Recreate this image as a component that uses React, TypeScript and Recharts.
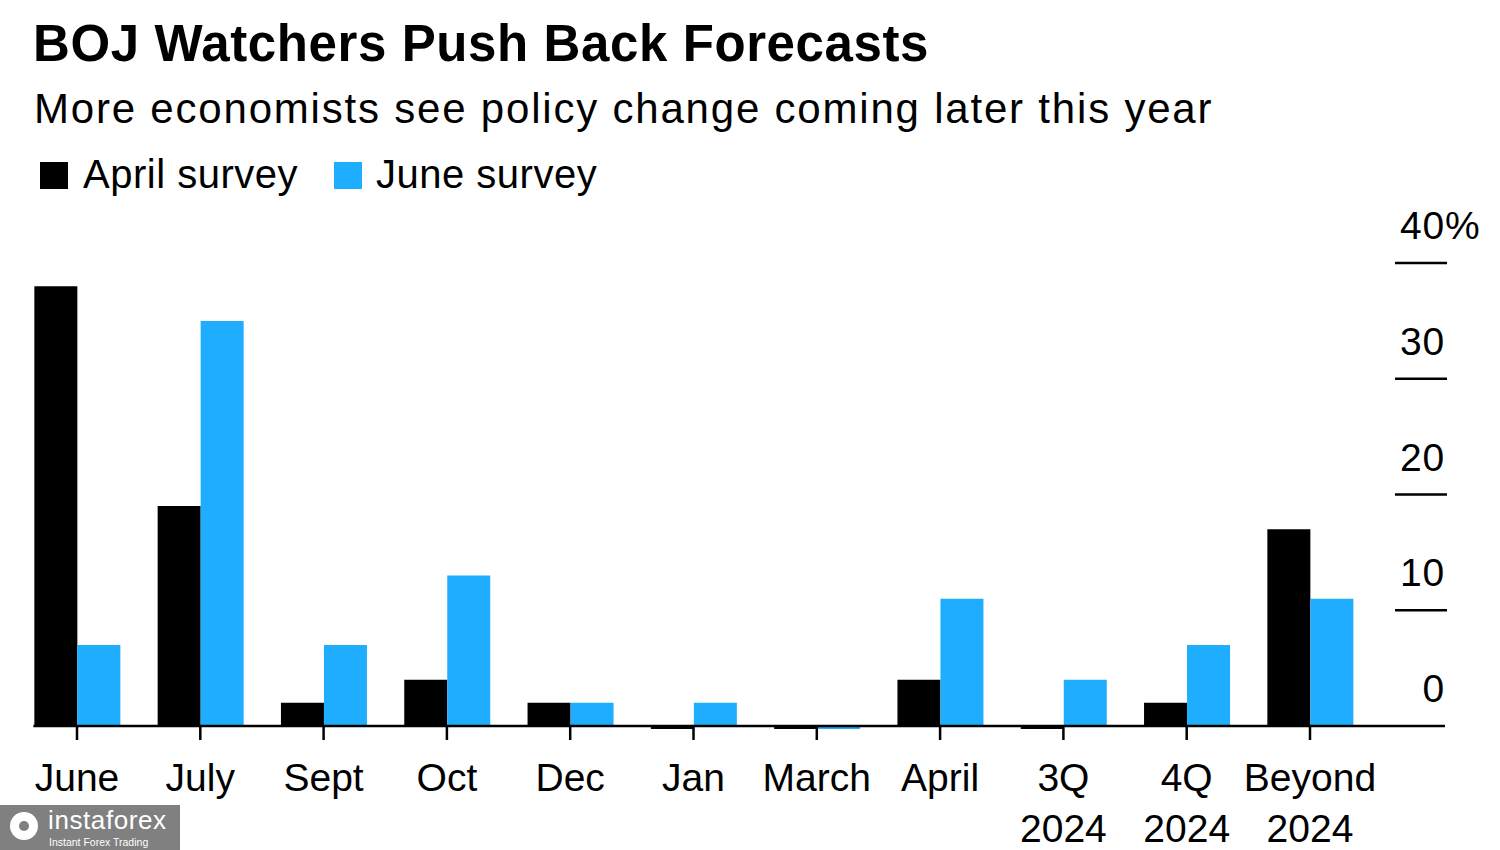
import React from 'react';
import { BarChart, Bar, XAxis, YAxis } from 'recharts';

// ---- data ----
const categories = ['June', 'July', 'Sept', 'Oct', 'Dec', 'Jan', 'March', 'April', '3Q 2024', '4Q 2024', 'Beyond 2024'];
const aprilSurvey = [38, 19, 2, 4, 2, 0, 0, 4, 0, 2, 17];
const juneSurvey = [7, 35, 7, 13, 2, 2, 0, 11, 4, 7, 11];
const yTicks = [0, 10, 20, 30, 40];
const seriesNames = ['April survey', 'June survey'];

const title = 'BOJ Watchers Push Back Forecasts';
const subtitle = 'More economists see policy change coming later this year';

const BLACK = '#000000';
const BLUE = '#1EADFF';
const FONT = "'Liberation Sans', Arial, Helvetica, sans-serif";

const data = categories.map((c, i) => ({ category: c, april: aprilSurvey[i], june: juneSurvey[i] }));

const XTick = (props: any) => {
  const { x, y, payload } = props;
  const lines = String(payload.value).split(' ');
  return (
    <g>
      {lines.map((ln: string, i: number) => (
        <text
          key={i}
          x={x}
          y={y + 51 + i * 51}
          textAnchor="middle"
          fontFamily={FONT}
          fontSize={39}
          fill="#000"
        >
          {ln}
        </text>
      ))}
    </g>
  );
};

const YTick = (props: any) => {
  const { x, y, payload } = props;
  const v = payload.value;
  const tx = x;
  return (
    <g>
      {v !== 0 && <line x1={tx - 50} x2={tx + 2} y1={y} y2={y} stroke="#000" strokeWidth={2.5} />}
      <text x={tx} y={y - 24} textAnchor="end" fontFamily={FONT} fontSize={39} letterSpacing={0.8} fill="#000">
        {String(v)}
      </text>
      {v === 40 && (
        <text x={tx} y={y - 24} textAnchor="start" fontFamily={FONT} fontSize={39} fill="#000">
          %
        </text>
      )}
    </g>
  );
};

export default function App() {
  return (
    <div style={{ position: 'absolute', left: 0, top: 0, width: 1500, height: 850, background: '#fff' }}>
      <div style={{ position: 'absolute', left: 0, top: 0 }}>
        <BarChart
          width={1500}
          height={850}
          data={data}
          margin={{ top: 263, right: 5, bottom: 14, left: 15.35 }}
          barGap={0}
        >
          <XAxis
            dataKey="category"
            height={110}
            padding={{ left: 0, right: 73.35 }}
            interval={0}
            tickSize={14}
            tickMargin={0}
            axisLine={{ stroke: '#000', strokeWidth: 2.5, strokeDasharray: '0 18 3000' }}
            tickLine={{ stroke: '#000', strokeWidth: 2.5 }}
            tick={<XTick />}
          />
          <YAxis
            orientation="right"
            domain={[0, 40]}
            ticks={yTicks}
            width={50}
            tickSize={0}
            tickMargin={0}
            axisLine={false}
            tickLine={false}
            tick={<YTick />}
          />
          <Bar dataKey="april" name={seriesNames[0]} fill={BLACK} barSize={43} minPointSize={-3} isAnimationActive={false} />
          <Bar dataKey="june" name={seriesNames[1]} fill={BLUE} barSize={43} minPointSize={-3} isAnimationActive={false} />
        </BarChart>
      </div>
      <svg
        width={1500}
        height={850}
        style={{ position: 'absolute', left: 0, top: 0, pointerEvents: 'none' }}
      >
        <text x={33} y={61} fontFamily={FONT} fontSize={51} fontWeight="bold" letterSpacing={0.6} fill="#000">
          {title}
        </text>
        <text x={34} y={123} fontFamily={FONT} fontSize={42} letterSpacing={1.8} fill="#000">
          {subtitle}
        </text>
        <rect x={40} y={162} width={28} height={27} fill={BLACK} />
        <text x={83} y={188} fontFamily={FONT} fontSize={40} letterSpacing={0.5} fill="#000">
          {seriesNames[0]}
        </text>
        <rect x={334} y={162} width={28} height={27} fill={BLUE} />
        <text x={376} y={188} fontFamily={FONT} fontSize={40} letterSpacing={0.5} fill="#000">
          {seriesNames[1]}
        </text>
        {/* watermark */}
        <rect x={0} y={805} width={180} height={45} fill="#808080" />
        <circle cx={24} cy={826} r={14} fill="#fff" />
        <circle cx={24} cy={826} r={5} fill="#808080" />
        <text x={48} y={829} fontFamily={FONT} fontSize={26} letterSpacing={0.6} fill="#fff">
          instaforex
        </text>
        <text x={49} y={846} fontFamily={FONT} fontSize={10.5} fill="#fff">
          Instant Forex Trading
        </text>
      </svg>
    </div>
  );
}
